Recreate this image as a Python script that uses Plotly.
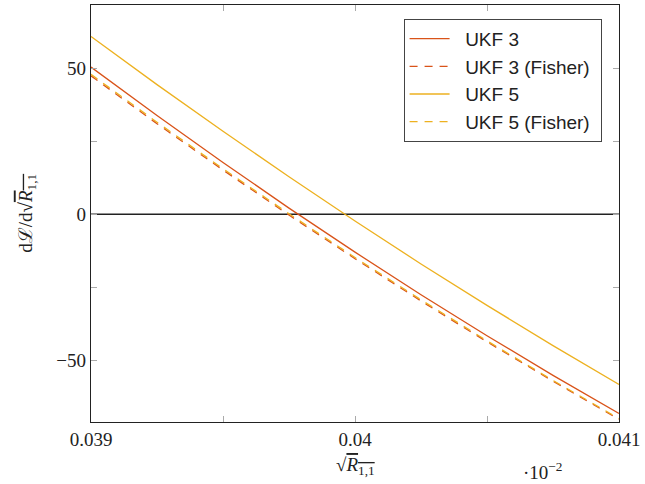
import plotly.graph_objects as go

x_vals = [0.039, 0.03925, 0.0395, 0.03975, 0.04, 0.04025, 0.0405, 0.04075, 0.041]
ukf3 = [50.5, 33.9, 17.8, 2.15, -12.95, -27.55, -41.6, -55.2, -68.3]
ukf3_fisher = [47.5, 31.1, 15.2, -0.24, -15.2, -29.7, -43.7, -57.2, -70.3]
ukf5 = [61.0, 44.5, 28.5, 12.9, -2.3, -17.0, -31.2, -45.0, -58.3]
ukf5_fisher = [48.0, 31.6, 15.65, 0.2, -14.8, -29.3, -43.35, -56.95, -70.0]

x_ticks = [0.039, 0.0395, 0.04, 0.0405, 0.041]
x_ticktext = ["0.039", "", "0.04", "", "0.041"]
y_ticks = [-50, -25, 0, 25, 50]
y_ticktext = ["\u221250", "", "0", "", "50"]

RED = "#D95319"
YEL = "#EDB120"
SP = "\u00a0\u00a0"

fig = go.Figure()
fig.add_trace(go.Scatter(x=x_vals, y=ukf3, mode="lines", name=SP + "UKF 3",
                         line=dict(color=RED, width=1.3)))
fig.add_trace(go.Scatter(x=x_vals, y=ukf3_fisher, mode="lines", name=SP + "UKF 3 (Fisher)\u00a0",
                         line=dict(color=RED, width=1.3, dash="8px,7px")))
fig.add_trace(go.Scatter(x=x_vals, y=ukf5, mode="lines", name=SP + "UKF 5",
                         line=dict(color=YEL, width=1.3)))
fig.add_trace(go.Scatter(x=x_vals, y=ukf5_fisher, mode="lines", name=SP + "UKF 5 (Fisher)\u00a0",
                         line=dict(color=YEL, width=1.3, dash="8px,7px")))

fig.add_shape(type="line", xref="paper", x0=0, x1=1, yref="y", y0=0, y1=0,
              line=dict(color="#222222", width=1.5), layer="below")

serif = "Liberation Serif, DejaVu Serif, serif"

fig.update_layout(
    width=645, height=484,
    margin=dict(l=91, r=26, t=5, b=62),
    paper_bgcolor="white", plot_bgcolor="white",
    font=dict(family=serif, size=19, color="#222"),
    showlegend=True,
    legend=dict(x=0.592, y=0.967, xanchor="left", yanchor="top",
                bordercolor="#444", borderwidth=1, bgcolor="white",
                font=dict(family="Liberation Sans, Arial, sans-serif", size=19, color="#222"),
                tracegroupgap=0, itemwidth=40),
    xaxis=dict(range=[0.039, 0.041], tickvals=x_ticks, ticktext=x_ticktext,
               ticks="inside", ticklen=6, tickcolor="#aaaaaa", tickwidth=1,
               showline=True, linecolor="#222", linewidth=1.3, mirror="ticks",
               showgrid=False, zeroline=False,
               tickfont=dict(family=serif, size=19)),
    yaxis=dict(range=[-71.2, 71.8], tickvals=y_ticks, ticktext=y_ticktext,
               ticks="inside", ticklen=6, tickcolor="#aaaaaa", tickwidth=1,
               showline=True, linecolor="#222", linewidth=1.3, mirror="ticks",
               showgrid=False, zeroline=False,
               tickfont=dict(family=serif, size=19)),
)

fig.add_annotation(xref="paper", yref="paper", x=0.5, y=-0.072, yanchor="top",
                   text="\u221a<span style='text-decoration:overline'><i>R</i><sub>1,1</sub></span>",
                   showarrow=False, font=dict(family=serif, size=19))
fig.add_annotation(xref="paper", yref="paper", x=0.896, y=-0.084, yanchor="top",
                   text="\u00b710<sup>\u22122</sup>",
                   showarrow=False, font=dict(family=serif, size=19))
fig.add_annotation(xref="paper", yref="paper", x=-0.15, y=0.5, textangle=-90,
                   text="d<span style='font-family:DejaVu Serif'>\u2112</span>/d\u221a<span style='text-decoration:overline'><i>R</i><sub>1,1</sub></span>",
                   showarrow=False, font=dict(family=serif, size=19))

fig.write_html("out.html", config={"displayModeBar": False},
               post_script="document.body.style.margin='0';document.body.style.padding='0';")
